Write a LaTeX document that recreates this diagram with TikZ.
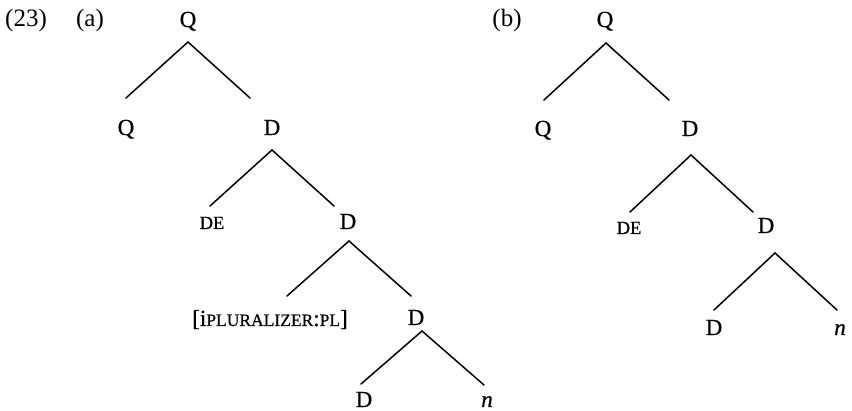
\documentclass[tikz,border=0pt]{standalone}
\usepackage{fontspec}
\setmainfont{Liberation Serif}
\newfontfamily\treefont[FakeBold=0.6]{Liberation Serif}
\usetikzlibrary{calc}
\newcommand\lsc[1]{{\fontsize{17.5}{18}\selectfont #1}}
\begin{document}
\begin{tikzpicture}[x=1pt,y=-1pt,
  lab/.style={anchor=base,inner sep=0pt,font=\treefont\fontsize{23}{25}\selectfont},
  exlab/.style={anchor=base,inner sep=0pt,font=\fontsize{25}{27}\selectfont},
  branch/.style={line width=1.5pt,line cap=round,line join=miter}]
\useasboundingbox (0,0) rectangle (852,411);

% example number and sub-labels
\node[exlab] (num) at (26,27) {(23)};
\node[exlab] (suba) at (90,27) {(a)};
\node[exlab] (subb) at (507,27) {(b)};

% tree (a)
\node[lab] (Qa0) at (188,27) {Q};
\node[lab] (Qa1) at (126,135) {Q};
\node[lab] (Da1) at (272,135) {D};
\node[lab] (DEa) at (212,229) {\fontsize{18.5}{19}\selectfont DE};
\node[lab] (Da2) at (348,229) {D};
\node[lab] (La)  at (270,326) {[i\lsc{PLURALIZER}:\lsc{PL}]};
\node[lab] (Da3) at (416,325) {D};
\node[lab] (Da4) at (364,407) {D};
\node[lab] (na)  at (487,407) {\textit{n}};

\draw[branch] ($(Qa1.base)+(0,-37)$) -- ($(Qa0.base)+(0,15)$) -- ($(Da1.base)+(-22,-37)$);
\draw[branch] ($(DEa.base)+(-2,-23)$) -- ($(Da1.base)+(0,15)$) -- ($(Da2.base)+(-14,-23)$);
\draw[branch] ($(La.base)+(17,-30)$) -- ($(Da2.base)+(1,12)$) -- ($(Da3.base)+(-5,-29)$);
\draw[branch] ($(Da4.base)+(-3,-23)$) -- ($(Da3.base)+(6,6)$) -- ($(na.base)+(-3,-22)$);

% tree (b)
\node[lab] (Qb0) at (605,27) {Q};
\node[lab] (Qb1) at (543,136) {Q};
\node[lab] (Db1) at (690,136) {D};
\node[lab] (DEb) at (629,234) {\fontsize{18.5}{19}\selectfont DE};
\node[lab] (Db2) at (766,233) {D};
\node[lab] (Db3) at (714,335) {D};
\node[lab] (nb)  at (840,335) {\textit{n}};

\draw[branch] ($(Qb1.base)+(1,-36)$) -- ($(Qb0.base)+(1,16)$) -- ($(Db1.base)+(-21,-36)$);
\draw[branch] ($(DEb.base)+(1,-22)$) -- ($(Db1.base)+(1,19)$) -- ($(Db2.base)+(-13,-21)$);
\draw[branch] ($(Db3.base)+(0,-25)$) -- ($(Db2.base)+(9,20)$) -- ($(nb.base)+(-3,-25)$);
\end{tikzpicture}
\end{document}
